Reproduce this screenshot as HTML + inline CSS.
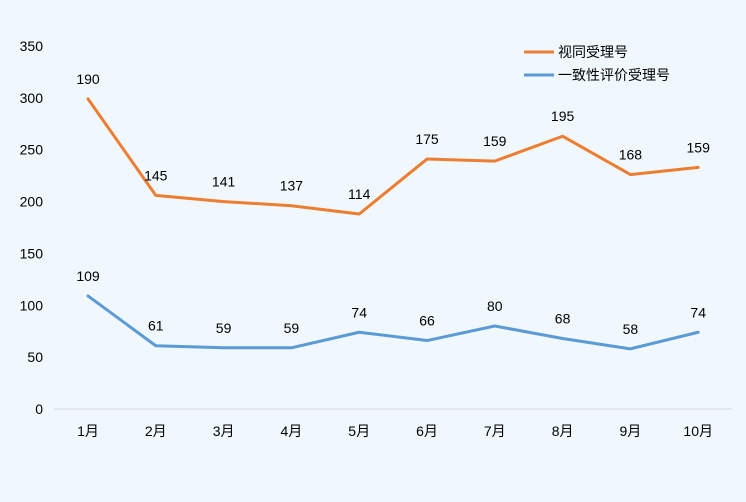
<!DOCTYPE html>
<html><head><meta charset="utf-8"><style>
html,body{margin:0;padding:0;background:#f0f8fe;}
svg{display:block;font-family:"Liberation Sans","Noto Sans CJK SC",sans-serif;}
</style></head><body>
<svg id="chart" width="746" height="502">
<rect x="0" y="0" width="746" height="502" fill="#f0f8fe"/>
<g id="yaxis"></g>
<g id="xaxis"></g>
<g id="series"></g>
<g>
<line x1="524" y1="52" x2="554" y2="52" stroke="#ed7d31" stroke-width="3"/>
<text x="558" y="57" font-size="14" fill="#000">视同受理号</text>
<line x1="524" y1="75" x2="554" y2="75" stroke="#5b9bd5" stroke-width="3"/>
<text x="558" y="80" font-size="14" fill="#000">一致性评价受理号</text>
</g>
</svg>
<script>
const categories=["1月","2月","3月","4月","5月","6月","7月","8月","9月","10月"];
const consistencyValues=[109,61,59,59,74,66,80,68,58,74];
const equivalentValues=[190,145,141,137,114,175,159,195,168,159];
const yTicks=[0,50,100,150,200,250,300,350];
const NS="http://www.w3.org/2000/svg";
const x0=88,dx=67.8,yBase=409,yPer=363/350;
const xs=i=>x0+i*dx, ys=v=>yBase-v*yPer;
const ya=document.getElementById('yaxis'),xa=document.getElementById('xaxis'),sg=document.getElementById('series');
function mk(t,a,p){const e=document.createElementNS(NS,t);for(const k in a)e.setAttribute(k,a[k]);p.appendChild(e);return e;}
yTicks.forEach(v=>{const t=mk('text',{x:43,y:ys(v)+5,'font-size':14,'text-anchor':'end',fill:'#000'},ya);t.textContent=v;

});
const ax=mk('line',{x1:54,y1:yBase,x2:732,y2:yBase,stroke:'#d9d9d9','stroke-width':1},xa);


categories.forEach((c,i)=>{const t=mk('text',{x:xs(i),y:436,'font-size':14,'text-anchor':'middle',fill:'#000'},xa);t.textContent=c;

});
const stacked=equivalentValues.map((v,i)=>v+consistencyValues[i]);
function draw(vals,labels,color,name){
const pts=vals.map((v,i)=>xs(i)+','+ys(v)).join(' ');
const pl=mk('polyline',{points:pts,fill:'none',stroke:color,'stroke-width':3,'stroke-linejoin':'round','stroke-linecap':'round'},sg);


vals.forEach((v,i)=>{const t=mk('text',{x:xs(i),y:ys(v)-15,'font-size':14,'text-anchor':'middle',fill:'#000'},sg);t.textContent=labels[i];

});
}
draw(stacked,equivalentValues,'#ed7d31','equivalent');
draw(consistencyValues,consistencyValues,'#5b9bd5','consistency');
</script>
</body></html>
